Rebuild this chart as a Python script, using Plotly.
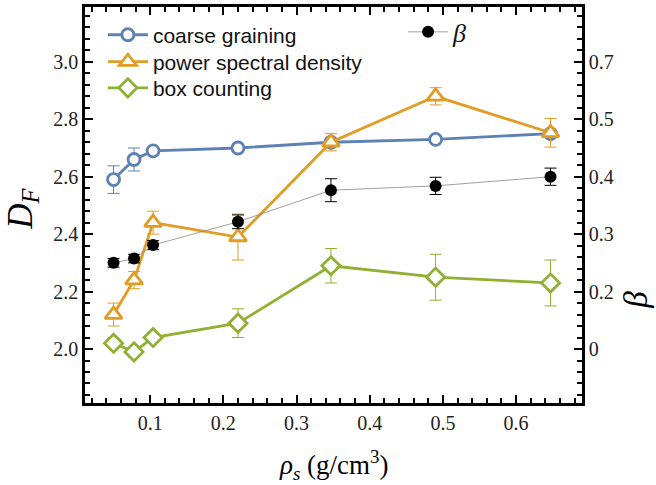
import plotly.graph_objects as go

rho = [0.05, 0.078, 0.104, 0.22, 0.347, 0.49, 0.647]

cg = [2.59, 2.66, 2.69, 2.70, 2.72, 2.73, 2.75]
cg_err = [0.048, 0.04, 0.01, 0.01, 0.01, 0.01, 0.01]

psd = [2.12, 2.24, 2.44, 2.39, 2.72, 2.88, 2.753]
psd_err = [0.04, 0.03, 0.04, 0.08, 0.03, 0.03, 0.05]

box = [2.02, 1.99, 2.04, 2.09, 2.29, 2.25, 2.23]
box_err = [0.01, 0.01, 0.01, 0.05, 0.06, 0.08, 0.08]

beta = [0.25, 0.2575, 0.281, 0.3215, 0.3765, 0.384, 0.40]
beta_err = [0.0075, 0.0075, 0.008, 0.012, 0.02, 0.015, 0.015]

beta_tickvals = [0.1, 0.2, 0.3, 0.4, 0.5, 0.6]
beta_ticktext = ["0", "0.2", "0.3", "0.4", "0.5", "0.7"]

BLUE = "#5E81B5"
ORANGE = "#E19C24"
GREEN = "#8FB032"

fig = go.Figure()

def add_series(y, err, color, symbol, name, size, legend):
    fig.add_trace(go.Scatter(
        x=rho, y=y, name=name, mode="lines+markers",
        line=dict(color=color, width=2.8),
        marker=dict(symbol=symbol, size=size, color="white",
                    line=dict(color=color, width=2.8)),
        error_y=dict(type="data", array=err, color=color, thickness=1, width=6),
        legend=legend,
    ))

add_series(cg, cg_err, BLUE, "circle", "coarse graining", 12, "legend")
add_series(psd, psd_err, ORANGE, "triangle-up", "power spectral density", 15, "legend3")
add_series(box, box_err, GREEN, "diamond", "box counting", 14, "legend4")

fig.add_trace(go.Scatter(
    x=rho, y=beta, name="<i>β</i>", mode="lines+markers", yaxis="y2",
    line=dict(color="#888888", width=0.8),
    marker=dict(symbol="circle", size=12, color="black"),
    error_y=dict(type="data", array=beta_err, color="black", thickness=1, width=6),
    legend="legend2",
))

tickfont = dict(family="Liberation Serif", size=20, color="#222")
axcommon = dict(showgrid=False, zeroline=False, showline=True, linecolor="black",
                linewidth=2.5, ticks="inside", ticklen=8, tickwidth=2, tickcolor="black",
                tickfont=tickfont, automargin=False)

legfont = dict(family="Liberation Sans", size=21, color="#111")

def leg(yc):
    return dict(x=0.036, y=yc, xanchor="left", yanchor="middle",
                bgcolor="rgba(0,0,0,0)", font=legfont, itemwidth=40)

fig.update_layout(
    width=656, height=485,
    margin=dict(l=85, r=74, t=7, b=82),
    paper_bgcolor="white", plot_bgcolor="white",
    showlegend=True,
    xaxis=dict(range=[0.011, 0.69], tick0=0, dtick=0.1, mirror="ticks",
               minor=dict(ticks="inside", ticklen=5, tickwidth=2, tickcolor="black", dtick=0.02, tick0=0),
               **axcommon),
    yaxis=dict(range=[1.812, 3.191], tick0=2.0, dtick=0.2, tickformat=".1f",
               minor=dict(ticks="inside", ticklen=5, tickwidth=2, tickcolor="black", dtick=0.04, tick0=2.0),
               **axcommon),
    yaxis2=dict(range=[0.006, 0.6955], overlaying="y", side="right",
                tickmode="array", tickvals=beta_tickvals, ticktext=beta_ticktext,
                minor=dict(ticks="inside", ticklen=5, tickwidth=2, tickcolor="black",
                           tickmode="linear", dtick=0.02, tick0=0.0),
                **axcommon),
    legend=leg(0.929),
    legend3=leg(0.861),
    legend4=leg(0.795),
    legend2=dict(x=0.64, y=0.937, xanchor="left", yanchor="middle",
                 bgcolor="rgba(0,0,0,0)", font=dict(family="Liberation Serif", size=26, color="#111"),
                 itemwidth=40),
    annotations=[
        dict(text="<i>D</i><sub><i>F</i></sub>", xref="paper", yref="paper",
             x=-0.125, y=0.49, xanchor="center", yanchor="middle", showarrow=False, textangle=-90,
             font=dict(family="Liberation Serif", size=35, color="black")),
        dict(text="<i>β</i>", xref="paper", yref="paper",
             x=1.108, y=0.26, xanchor="center", yanchor="middle", showarrow=False, textangle=-90,
             font=dict(family="Liberation Serif", size=33, color="black")),
        dict(text="<i>ρ</i><sub><i>s</i></sub> (g/cm<sup>3</sup>)", xref="paper", yref="paper",
             x=0.50, y=-0.157, xanchor="center", yanchor="middle", showarrow=False,
             font=dict(family="Liberation Serif", size=27, color="black")),
    ],
)

fig.write_html("out.html", config={"displayModeBar": False},
               post_script="document.body.style.margin='0';document.body.style.overflow='hidden';")
